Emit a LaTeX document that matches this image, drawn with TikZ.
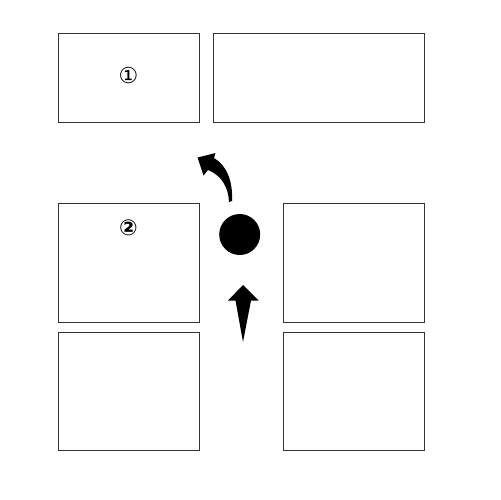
\documentclass[tikz,border=0pt]{standalone}
\usepackage{fontspec}
\newfontfamily\dejavu{DejaVu Sans}
\begin{document}
\begin{tikzpicture}[x=0.02cm,y=-0.02cm]
\tikzset{
  panel/.style={draw=black!80,line width=0.6pt,fill=white,inner sep=0pt,anchor=north west},
  num/.style={font=\dejavu\fontsize{12.5}{14}\selectfont,inner sep=0pt},
  blob/.style={fill=black,draw=none}
}
\useasboundingbox (0,0) rectangle (500,500);
\fill[white] (0,0) rectangle (500,500);
\node[panel,minimum width=2.82cm,minimum height=1.768cm] (p1) at (58.3,33.3) {};
\node[panel,minimum width=4.214cm,minimum height=1.768cm] (p2) at (213.3,33.3) {};
\node[panel,minimum width=2.82cm,minimum height=2.368cm] (p3) at (58.3,203.3) {};
\node[panel,minimum width=2.814cm,minimum height=2.368cm] (p4) at (283.3,203.3) {};
\node[panel,minimum width=2.82cm,minimum height=2.366cm] (p5) at (58.3,331.7) {};
\node[panel,minimum width=2.814cm,minimum height=2.366cm] (p6) at (283.3,331.7) {};
\node[num] (n1) at (128.5,76) {①};
\node[num] (n2) at (128.5,227.7) {\bfseries ②};
\node[circle,fill=black,minimum size=0.82cm,inner sep=0pt] (dot) at (239.7,234.5) {};
% curved arrow
\path[blob] (197.5,157.5) -- (215.5,153) -- (214,158)
  .. controls (226,165) and (233,180) .. (232,201)
  -- (229,202)
  .. controls (228.5,187) and (221,175) .. (208,170)
  -- (203.5,175.5) -- cycle;
% up arrow
\path[blob] (243,285) -- (258.5,300.5) -- (251,300.5) -- (243,342) -- (235.5,300.5) -- (228,300.5) -- cycle;
\end{tikzpicture}
\end{document}
